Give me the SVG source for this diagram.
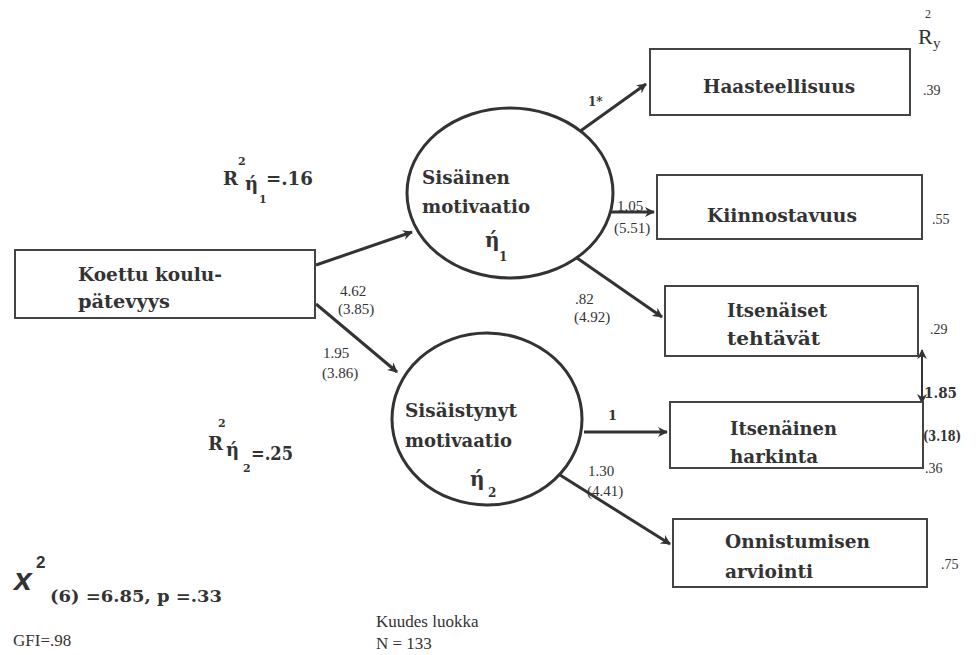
<svg xmlns="http://www.w3.org/2000/svg" width="980" height="655" viewBox="0 0 980 655">
<defs>
<marker id="ah" markerWidth="10" markerHeight="10" refX="9" refY="5" orient="auto" markerUnits="userSpaceOnUse" viewBox="0 0 10 10">
<path d="M0,0 L10,5 L0,10 L3,5 Z" fill="#333"/>
</marker>
<marker id="ahs" markerWidth="10" markerHeight="10" refX="9" refY="5" orient="auto-start-reverse" markerUnits="userSpaceOnUse" viewBox="0 0 10 10">
<path d="M0,0 L10,5 L0,10 L3,5 Z" fill="#333"/>
</marker>
</defs>
<style>
.box{fill:#fff;stroke:#444;stroke-width:2}
.ell{fill:#fff;stroke:#333;stroke-width:3}
.con{stroke:#333;stroke-width:3;fill:none;marker-end:url(#ah)}
.b{font-family:"DejaVu Serif",serif;font-weight:bold;fill:#333}
.lbl{font-size:19px}
.r{font-family:"Liberation Serif",serif;fill:#333}
</style>
<rect width="980" height="655" fill="#fff"/>

<g id="connectors">
<line class="con" x1="316" y1="265" x2="412" y2="232"/>
<line class="con" x1="316" y1="304" x2="397" y2="372"/>
<line class="con" x1="579" y1="132" x2="646" y2="84"/>
<line class="con" x1="611" y1="212" x2="654" y2="212"/>
<line class="con" x1="577" y1="258" x2="662" y2="317"/>
<line class="con" x1="584" y1="432" x2="667" y2="432"/>
<line class="con" x1="560" y1="475" x2="670" y2="544"/>
<line x1="922" y1="350" x2="922" y2="403" stroke="#333" stroke-width="2" marker-start="url(#ahs)" marker-end="url(#ah)"/>
<text class="r" font-size="15" x="340" y="296">4.62</text>
<text class="r" font-size="15" x="338" y="314">(3.85)</text>
<text class="r" font-size="15" x="323" y="358">1.95</text>
<text class="r" font-size="15" x="322" y="378">(3.86)</text>
<text class="b" font-size="12" x="588" y="106">1*</text>
<text class="r" font-size="15" x="617" y="211">1.05</text>
<text class="r" font-size="15" x="614" y="233">(5.51)</text>
<text class="r" font-size="15" x="575" y="304">.82</text>
<text class="r" font-size="15" x="574" y="322">(4.92)</text>
<text class="b" font-size="13" x="608" y="420">1</text>
<text class="r" font-size="15" x="588" y="476">1.30</text>
<text class="r" font-size="15" x="587" y="496">(4.41)</text>
<text class="b" font-size="14" x="924" y="398" textLength="33" lengthAdjust="spacingAndGlyphs">1.85</text>
<text class="b" font-size="14" x="923" y="441" textLength="38" lengthAdjust="spacingAndGlyphs">(3.18)</text>
</g>

<g id="koettu">
<rect class="box" x="15" y="250" width="300" height="68"/>
<text class="b lbl" x="78" y="281" textLength="144" lengthAdjust="spacingAndGlyphs">Koettu koulu-</text>
<text class="b lbl" x="78" y="308" textLength="92" lengthAdjust="spacingAndGlyphs">pätevyys</text>
</g>

<g id="sisainen">
<ellipse class="ell" cx="510" cy="193" rx="103" ry="85"/>
<text class="b lbl" x="422" y="184" textLength="88" lengthAdjust="spacingAndGlyphs">Sisäinen</text>
<text class="b lbl" x="422" y="213" textLength="108" lengthAdjust="spacingAndGlyphs">motivaatio</text>
<text class="b" font-size="20" x="485" y="247">ή</text>
<text class="b" font-size="12" x="499" y="261">1</text>
</g>

<g id="sisaistynyt">
<ellipse class="ell" cx="487" cy="419" rx="95" ry="86"/>
<text class="b lbl" x="405" y="417" textLength="112" lengthAdjust="spacingAndGlyphs">Sisäistynyt</text>
<text class="b lbl" x="405" y="447" textLength="107" lengthAdjust="spacingAndGlyphs">motivaatio</text>
<text class="b" font-size="20" x="470" y="486">ή</text>
<text class="b" font-size="12" x="488" y="497">2</text>
</g>

<g id="haasteellisuus">
<rect class="box" x="650" y="49" width="260" height="66"/>
<text class="b lbl" x="703" y="93" textLength="152" lengthAdjust="spacingAndGlyphs">Haasteellisuus</text>
<text class="r" font-size="14" x="923" y="95">.39</text>
</g>

<g id="kiinnostavuus">
<rect class="box" x="657" y="175" width="265" height="64"/>
<text class="b lbl" x="707" y="222" textLength="150" lengthAdjust="spacingAndGlyphs">Kiinnostavuus</text>
<text class="r" font-size="14" x="932" y="224">.55</text>
</g>

<g id="itsenaiset">
<rect class="box" x="665" y="286" width="253" height="70"/>
<text class="b lbl" x="727" y="317" textLength="100" lengthAdjust="spacingAndGlyphs">Itsenäiset</text>
<text class="b lbl" x="727" y="345" textLength="93" lengthAdjust="spacingAndGlyphs">tehtävät</text>
<text class="r" font-size="14" x="930" y="334">.29</text>
</g>

<g id="itsenainen">
<rect class="box" x="670" y="402" width="253" height="66"/>
<text class="b lbl" x="730" y="435" textLength="107" lengthAdjust="spacingAndGlyphs">Itsenäinen</text>
<text class="b lbl" x="730" y="463" textLength="88" lengthAdjust="spacingAndGlyphs">harkinta</text>
<text class="r" font-size="14" x="925" y="473">.36</text>
</g>

<g id="onnistumisen">
<rect class="box" x="673" y="519" width="254" height="68"/>
<text class="b lbl" x="725" y="548" textLength="145" lengthAdjust="spacingAndGlyphs">Onnistumisen</text>
<text class="b lbl" x="725" y="578" textLength="88" lengthAdjust="spacingAndGlyphs">arviointi</text>
<text class="r" font-size="14" x="941" y="569">.75</text>
</g>

<g id="ry">
<text class="r" x="918" y="44" font-size="22">R</text>
<text class="r" x="925" y="18" font-size="12">2</text>
<text class="r" x="933" y="48" font-size="15">y</text>
</g>

<g id="r2eta1">
<text class="b" font-size="18" x="223" y="185">R</text>
<text class="b" font-size="11" x="238" y="165">2</text>
<text class="b" font-size="18" x="245" y="190">ή</text>
<text class="b" font-size="11" x="259" y="203">1</text>
<text class="b" font-size="18" x="266" y="185" textLength="47" lengthAdjust="spacingAndGlyphs">=.16</text>
</g>

<g id="r2eta2">
<text class="b" font-size="18" x="208" y="450">R</text>
<text class="b" font-size="11" x="218" y="427">2</text>
<text class="b" font-size="18" x="226" y="456">ή</text>
<text class="b" font-size="11" x="243" y="472">2</text>
<text class="b" font-size="18" x="251" y="460" textLength="42" lengthAdjust="spacingAndGlyphs">=.25</text>
</g>

<g id="fit">
<text x="14" y="590" font-family="Liberation Sans,sans-serif" font-weight="bold" font-style="italic" font-size="32" fill="#333">x</text>
<text x="36" y="568" font-family="Liberation Sans,sans-serif" font-weight="bold" font-size="17" fill="#333">2</text>
<text class="b" font-size="17" x="50" y="602" textLength="172" lengthAdjust="spacingAndGlyphs">(6) =6.85, p =.33</text>
<text class="r" font-size="17" x="13" y="646">GFI=.98</text>
<text class="r" font-size="17" x="376" y="627">Kuudes luokka</text>
<text class="r" font-size="17" x="376" y="649">N = 133</text>
</g>
</svg>
